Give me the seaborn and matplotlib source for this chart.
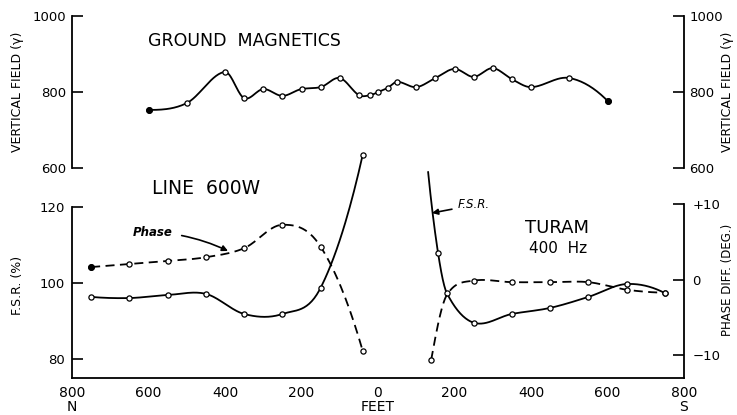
import numpy as np
import matplotlib
matplotlib.use("Agg")
import matplotlib.pyplot as plt
import seaborn as sns

# stations in feet along line 600W: N is negative, S is positive
mag_ft = [-600, -500, -400, -350, -300, -250, -200, -150, -100, -50, -20, 0,
          25, 50, 100, 150, 200, 250, 300, 350, 400, 500, 600]
mag_gamma = [752, 770, 852, 783, 807, 789, 807, 812, 836, 791, 791, 799,
             810, 826, 812, 836, 860, 839, 862, 833, 812, 836, 776]

# F.S.R. (%) - north branch and south branch
fsr_n_ft = [-750, -650, -550, -450, -350, -250, -150, -40]
fsr_n_val = [96.4, 96.1, 96.9, 97.2, 91.9, 91.9, 98.8, 133.9]
fsr_s_ft = [131, 157, 180, 250, 350, 450, 550, 650, 750]
fsr_s_val = [129.4, 108.0, 97.4, 89.6, 91.9, 93.5, 96.4, 99.8, 97.4]

# phase difference (deg)
ph_n_ft = [-750, -650, -550, -450, -350, -250, -150, -40]
ph_n_val = [1.7, 2.1, 2.5, 3.0, 4.2, 7.3, 4.4, -9.4]
ph_s_ft = [139, 180, 250, 350, 450, 550, 650, 750]
ph_s_val = [-10.6, -2.0, -0.1, -0.3, -0.3, -0.3, -1.3, -1.7]

x_ticks = [-800, -600, -400, -200, 0, 200, 400, 600, 800]
x_ticklabels = ["800", "600", "400", "200", "0", "200", "400", "600", "800"]


def end_slope(h0, h1, d0, d1):
    m = ((2 * h0 + h1) * d0 - h0 * d1) / (h0 + h1)
    if np.sign(m) != np.sign(d0):
        m = 0.0
    return m


def smooth(x, y, n=30):
    # cubic hermite through the stations (catmull-rom like), hand drawn look
    x = np.asarray(x, float)
    y = np.asarray(y, float)
    h = np.diff(x)
    d = np.diff(y) / h
    k = len(x)
    m = np.zeros(k)
    for i in range(1, k - 1):
        m[i] = (y[i + 1] - y[i - 1]) / (x[i + 1] - x[i - 1])
    m[0] = end_slope(h[0], h[1], d[0], d[1])
    m[-1] = end_slope(h[-1], h[-2], d[-1], d[-2])
    # keep monotone pieces from overshooting
    for i in range(k - 1):
        if d[i] != 0 and np.sign(m[i]) == np.sign(d[i]) == np.sign(m[i + 1]):
            a, b = m[i] / d[i], m[i + 1] / d[i]
            r = a * a + b * b
            if r > 9:
                t = 3 / np.sqrt(r)
                m[i], m[i + 1] = t * a * d[i], t * b * d[i]
    xs, ys = [], []
    for i in range(k - 1):
        t = np.linspace(0, 1, n, endpoint=(i == k - 2))
        h00 = 2 * t**3 - 3 * t**2 + 1
        h10 = t**3 - 2 * t**2 + t
        h01 = -2 * t**3 + 3 * t**2
        h11 = t**3 - t**2
        xs.append(x[i] + t * h[i])
        ys.append(h00 * y[i] + h10 * h[i] * m[i] + h01 * y[i + 1] + h11 * h[i] * m[i + 1])
    return np.concatenate(xs), np.concatenate(ys)


def draw_curve(ax, x, y, dashed=False):
    xs, ys = smooth(x, y)
    ls = (0, (5, 3)) if dashed else "-"
    sns.lineplot(x=xs, y=ys, ax=ax, color="black", lw=1.3, linestyle=ls,
                 sort=False, estimator=None)


def draw_marks(ax, x, y):
    sns.scatterplot(x=x, y=y, ax=ax, marker="o", s=14, color="white",
                    edgecolor="black", linewidth=0.9, zorder=4)


sns.set_style("white")
plt.rcParams["font.family"] = ["DejaVu Sans"]
plt.rcParams["text.color"] = "black"
plt.rcParams["xtick.color"] = "black"
plt.rcParams["ytick.color"] = "black"
plt.rcParams["axes.edgecolor"] = "black"

W, H = 737, 415
fig = plt.figure(figsize=(W / 100, H / 100), dpi=100)

left, right = 72, 684
# lower panel: F.S.R. on the left, phase on the right
ax = fig.add_axes([left / W, (H - 378) / H, (right - left) / W, (378 - 15) / H])
ax.set_xlim(-800, 800)
ax.set_ylim(75.0, 170.8)
ax_ph = ax.twinx()
ax_ph.set_ylim(-13.0, 35.1)

# upper panel: ground magnetics
ax_mag = fig.add_axes([left / W, (H - 167.7) / H, (right - left) / W, (167.7 - 15.7) / H])
ax_mag.set_xlim(-800, 800)
ax_mag.set_ylim(600, 1000)
ax_mag.patch.set_alpha(0)

# curves
draw_curve(ax_mag, mag_ft, mag_gamma)
draw_marks(ax_mag, mag_ft, mag_gamma)
ax_mag.plot([mag_ft[0], mag_ft[-1]], [mag_gamma[0], mag_gamma[-1]], "o",
            color="black", ms=4, zorder=5)

draw_curve(ax, fsr_n_ft, fsr_n_val)
draw_marks(ax, fsr_n_ft, fsr_n_val)
draw_curve(ax, fsr_s_ft, fsr_s_val)
draw_marks(ax, fsr_s_ft[1:], fsr_s_val[1:])

draw_curve(ax_ph, ph_n_ft, ph_n_val, dashed=True)
draw_marks(ax_ph, ph_n_ft, ph_n_val)
ax_ph.plot(ph_n_ft[0], ph_n_val[0], "o", color="black", ms=4, zorder=5)
draw_curve(ax_ph, ph_s_ft, ph_s_val, dashed=True)
draw_marks(ax_ph, ph_s_ft[:1] + ph_s_ft[2:], ph_s_val[:1] + ph_s_val[2:])

# spines and ticks
for a in (ax, ax_ph, ax_mag):
    a.set_xlabel("")
    a.set_ylabel("")
    a.spines["top"].set_visible(False)
    for s in a.spines.values():
        s.set_linewidth(1.3)

ax.spines["right"].set_visible(False)
ax.spines["left"].set_bounds(75.0, 120)
ax.set_yticks([80, 100, 120])
ax.set_xticks(x_ticks)
ax.set_xticklabels(x_ticklabels)
ax.tick_params(axis="both", direction="in", length=8, width=1.2, labelsize=10, pad=6)
ax.tick_params(axis="y", labelsize=9.5, pad=5)

ax_ph.spines["left"].set_visible(False)
ax_ph.spines["bottom"].set_visible(False)
ax_ph.spines["right"].set_bounds(-13.0, 10)
ax_ph.set_yticks([-10, 0, 10])
ax_ph.set_yticklabels(["\u221210", "0", "+10"])
ax_ph.tick_params(axis="y", direction="in", length=8, width=1.2, labelsize=9.5, pad=6)

ax_mag.spines["bottom"].set_visible(False)
ax_mag.set_xticks([])
ax_mag.set_yticks([600, 800, 1000])
ax_mag.tick_params(axis="y", left=True, right=True, labelleft=True, labelright=True,
                   direction="in", length=8, width=1.2, labelsize=9.5, pad=4)

# labels and notes
def px(x, y):
    return x / W, 1 - y / H

fig.text(*px(18, 92), "VERTICAL FIELD (\u03b3)", rotation=90, ha="center", va="center", fontsize=9)
fig.text(*px(728, 92), "VERTICAL FIELD (\u03b3)", rotation=90, ha="center", va="center", fontsize=9)
fig.text(*px(18, 285), "F.S.R. (%)", rotation=90, ha="center", va="center", fontsize=9)
fig.text(*px(728, 280), "PHASE DIFF. (DEG.)", rotation=90, ha="center", va="center", fontsize=8.5)

fig.text(*px(244, 41), "GROUND  MAGNETICS", ha="center", va="center", fontsize=12.5)
fig.text(*px(206, 188), "LINE  600W", ha="center", va="center", fontsize=13.5)
fig.text(*px(557, 228), "TURAM", ha="center", va="center", fontsize=13)
fig.text(*px(558, 248), "400  Hz", ha="center", va="center", fontsize=11)

fig.text(*px(72, 407), "N", ha="center", va="center", fontsize=10)
fig.text(*px(684, 407), "S", ha="center", va="center", fontsize=10)
fig.text(*px(378, 407), "FEET", ha="center", va="center", fontsize=10)

ax.annotate("Phase", xy=px(228, 251), xycoords="figure fraction",
            xytext=px(153, 232), textcoords="figure fraction",
            ha="center", va="center", fontsize=8.5, style="italic", weight="bold",
            arrowprops=dict(arrowstyle="-|>", color="black", lw=1.2,
                            shrinkA=4, shrinkB=0, connectionstyle="arc3,rad=-0.1"))
ax.annotate("F.S.R.", xy=px(432, 213), xycoords="figure fraction",
            xytext=px(474, 205), textcoords="figure fraction",
            ha="center", va="center", fontsize=8.5, style="italic",
            arrowprops=dict(arrowstyle="-|>", color="black", lw=1.2,
                            shrinkA=2, shrinkB=0))

fig.savefig("out.png", dpi=100, facecolor="white")
